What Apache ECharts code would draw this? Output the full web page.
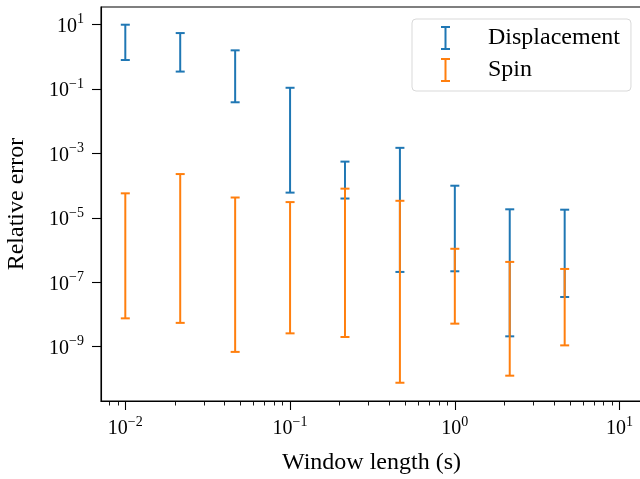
<!DOCTYPE html>
<html>
<head>
<meta charset="utf-8">
<script src="https://cdn.jsdelivr.net/npm/echarts@6/dist/echarts.min.js"></script>
<style>html,body{margin:0;padding:0;background:#fff}#c{width:640px;height:479px}</style>
</head>
<body>
<div id="c"></div>
<script>
// Window lengths (s)
var windowLengths = [0.01, 0.02154, 0.04642, 0.1, 0.2154, 0.4642, 1, 2.154, 4.642];
// Displacement relative error range
var dispHigh = [10, 5.5, 1.6, 0.11, 5.6e-4, 1.5e-3, 1.0e-4, 1.85e-5, 1.8e-5];
var dispLow  = [0.8, 0.35, 0.039, 6.1e-5, 4.0e-5, 2.1e-7, 2.2e-7, 2.1e-9, 3.5e-8];
// Spin relative error range
var spinHigh = [5.8e-5, 2.3e-4, 4.3e-5, 3.1e-5, 8.1e-5, 3.4e-5, 1.1e-6, 4.3e-7, 2.6e-7];
var spinLow  = [7.6e-9, 5.5e-9, 6.9e-10, 2.6e-9, 2.0e-9, 7.6e-11, 5.2e-9, 1.26e-10, 1.1e-9];
// Tick values
var xMajorTicks = [0.01, 0.1, 1, 10];
var xMinorTicks = [0.008, 0.009, 0.02, 0.03, 0.04, 0.05, 0.06, 0.07, 0.08, 0.09,
                   0.2, 0.3, 0.4, 0.5, 0.6, 0.7, 0.8, 0.9,
                   2, 3, 4, 5, 6, 7, 8, 9];
var yMajorTicks = [10, 0.1, 1e-3, 1e-5, 1e-7, 1e-9];
var seriesNames = ['Displacement', 'Spin'];

var FONT = 'Liberation Serif';
var BLUE = '#1f77b4', ORANGE = '#ff7f0e';
var xMin = Math.pow(10, -2.1475), xMax = Math.pow(10, 1.136);
var yMin = Math.pow(10, -10.686), yMax = Math.pow(10, 1.55);

function sciLabel(v) {
  var e = Math.round(Math.log10(v));
  var s = (e < 0 ? '\u2212' + (-e) : '' + e);
  return '{b|10}{s|' + s + '}';
}
var richLab = {
  b: {fontFamily: FONT, fontSize: 20, color: '#000', lineHeight: 24, verticalAlign: 'bottom'},
  s: {fontFamily: FONT, fontSize: 14, color: '#000', verticalAlign: 'top', lineHeight: 14}
};

function buildData(low, high) {
  return windowLengths.map(function (x, i) { return [x, low[i], high[i]]; });
}
function renderErr(params, api) {
  var x = api.value(0);
  var lo = api.coord([x, api.value(1)]);
  var hi = api.coord([x, api.value(2)]);
  var half = 4.5;
  var st = {stroke: api.visual('color'), lineWidth: 2, fill: null};
  return {
    type: 'group',
    children: [
      {type: 'line', shape: {x1: lo[0], y1: lo[1], x2: hi[0], y2: hi[1]}, style: st},
      {type: 'line', shape: {x1: lo[0] - half, y1: lo[1], x2: lo[0] + half, y2: lo[1]}, style: st},
      {type: 'line', shape: {x1: hi[0] - half, y1: hi[1], x2: hi[0] + half, y2: hi[1]}, style: st}
    ]
  };
}
var ICON = 'path://M0,0H9V2H0Z M3.5,0H5.5V24H3.5Z M0,22H9V24H0Z';

var chart = echarts.init(document.getElementById('c'), null, {renderer: 'canvas'});
chart.setOption({
  animation: false,
  backgroundColor: '#fff',
  grid: {left: 101, top: 7, right: -2, bottom: 78, show: true, borderColor: '#000', borderWidth: 1.1,
         containLabel: false, outerBoundsMode: 'none'},
  legend: {
    orient: 'vertical', left: 412, top: 19,
    padding: [7, 11, 9, 29],
    itemWidth: 9, itemHeight: 24, itemGap: 8,
    borderColor: '#d9d9d9', borderWidth: 1, borderRadius: 4, backgroundColor: '#fff',
    textStyle: {fontFamily: FONT, fontSize: 24, color: '#000', padding: [0, 0, 0, 33]},
    data: [
      {name: seriesNames[0], icon: ICON, itemStyle: {color: BLUE}},
      {name: seriesNames[1], icon: ICON, itemStyle: {color: ORANGE}}
    ]
  },
  xAxis: [{
    type: 'log', logBase: 10, min: xMin, max: xMax, position: 'bottom',
    name: 'Window length (s)', nameLocation: 'middle', nameGap: 50,
    nameTextStyle: {fontFamily: FONT, fontSize: 24, color: '#000'},
    axisLine: {onZero: false, lineStyle: {color: '#000', width: 1.1}},
    axisTick: {show: true, inside: false, length: 9, lineStyle: {color: '#000', width: 1.1}, customValues: xMajorTicks},
    axisLabel: {margin: 14, formatter: sciLabel, rich: richLab, customValues: xMajorTicks},
    splitLine: {show: false}, minorTick: {show: false}
  }, {
    type: 'log', logBase: 10, min: xMin, max: xMax, position: 'bottom',
    axisLine: {show: false, onZero: false},
    axisTick: {show: true, inside: false, length: 4.5, lineStyle: {color: '#000', width: 0.9}, customValues: xMinorTicks},
    axisLabel: {show: false},
    splitLine: {show: false}
  }],
  yAxis: [{
    type: 'log', logBase: 10, min: yMin, max: yMax, position: 'left',
    name: 'Relative error', nameLocation: 'middle', nameGap: 72, nameRotate: 90,
    nameTextStyle: {fontFamily: FONT, fontSize: 24, color: '#000'},
    axisLine: {onZero: false, lineStyle: {color: '#000', width: 1.1}},
    axisTick: {show: true, inside: false, length: 9, lineStyle: {color: '#000', width: 1.1}, customValues: yMajorTicks},
    axisLabel: {margin: 17, formatter: sciLabel, rich: richLab, customValues: yMajorTicks},
    splitLine: {show: false}
  }],
  series: [{
    name: seriesNames[0], type: 'custom', xAxisIndex: 0, yAxisIndex: 0,
    itemStyle: {color: BLUE}, renderItem: renderErr, clip: false,
    encode: {x: 0, y: [1, 2]}, data: buildData(dispLow, dispHigh)
  }, {
    name: seriesNames[1], type: 'custom', xAxisIndex: 0, yAxisIndex: 0,
    itemStyle: {color: ORANGE}, renderItem: renderErr, clip: false,
    encode: {x: 0, y: [1, 2]}, data: buildData(spinLow, spinHigh)
  }]
});
</script>
</body>
</html>
